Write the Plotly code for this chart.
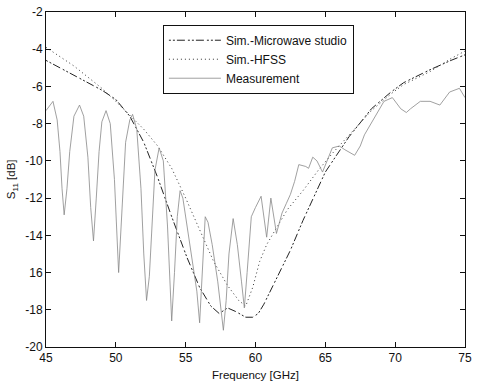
import plotly.graph_objects as go

# Measurement
meas_x = [45.0, 45.5, 45.8, 46.0, 46.15, 46.3, 46.5, 46.7, 47.0, 47.4, 47.7, 48.0, 48.2, 48.4, 48.6, 48.8,
          49.0, 49.3, 49.6, 49.9, 50.2, 50.5, 50.7, 51.0, 51.2, 51.5, 51.8, 52.0, 52.2, 52.4, 52.6, 52.8,
          53.1, 53.4, 53.7, 54.0, 54.2, 54.4, 54.6, 54.8, 55.1, 55.5, 55.8, 56.0, 56.2, 56.4, 56.6, 56.9,
          57.3, 57.7, 57.9, 58.1, 58.4, 58.7, 59.0, 59.2, 59.4, 59.7, 60.0, 60.4, 60.8, 61.1, 61.5, 61.9,
          62.2, 62.5, 62.8, 63.1, 63.6, 63.8, 64.1, 64.4, 64.8, 65.1, 65.5, 66.0, 66.4, 67.1, 67.5, 67.8,
          68.5, 69.2, 69.8, 70.4, 70.8, 71.1, 71.8, 72.5, 73.2, 73.9, 74.6, 75.0]
meas_y = [-7.3, -6.8, -7.8, -9.5, -11.5, -12.9, -11.5, -9.5, -7.6, -7.0, -7.6, -9.8, -12.5, -14.3, -12.0, -9.5,
          -7.9, -7.3, -8.0, -11.0, -16.0, -12.0, -9.0, -7.8, -7.5, -8.3, -11.5, -15.0, -17.5, -16.2, -13.0, -10.5,
          -9.3, -10.0, -13.5, -18.6, -16.0, -13.0, -11.6, -12.0, -13.5, -15.5, -17.0, -18.7, -16.0, -13.0, -13.3, -14.5,
          -16.5, -19.1, -17.5, -15.0, -13.1, -14.5, -16.5, -17.9, -16.0, -13.0, -12.5, -11.9, -14.1, -12.0, -13.9, -12.8,
          -12.3, -11.8, -11.1, -10.2, -10.3, -10.4, -9.8, -10.0, -10.6, -10.0, -9.3, -9.2, -9.4, -9.7, -9.2, -8.6,
          -7.7, -6.8, -6.6, -7.2, -7.4, -7.2, -6.8, -6.8, -7.0, -6.3, -6.1, -6.6]

# Sim. - Microwave studio
mws_x = [45, 46, 47, 48, 49, 50, 51, 52, 53, 54, 55.1, 56.0, 56.8, 57.4, 58.0, 58.6, 59.3, 59.8, 60.2, 60.6,
         61.5, 62.5, 63.4, 64.3, 65.0, 65.8, 66.7, 68.3, 69.7, 70.6, 72.5, 74.0, 75.0]
mws_y = [-4.6, -5.0, -5.4, -5.8, -6.2, -6.7, -7.6, -9.0, -10.9, -13.0, -15.2, -16.8, -17.8, -18.2, -17.9, -18.1, -18.4, -18.4, -18.2, -17.7,
         -16.3, -14.8, -13.2, -11.7, -10.6, -9.7, -8.7, -7.2, -6.3, -5.8, -5.1, -4.6, -4.3]

# Sim. - HFSS
hfss_x = [45, 46, 47, 48, 49, 50, 51, 52, 53, 54, 55, 56, 57, 58, 58.8, 59.3, 59.8, 60.3, 60.8, 61.5,
          62.3, 63.4, 64.5, 65.5, 66.7, 68.3, 69.7, 70.6, 72.5, 74.0, 75.0]
hfss_y = [-3.9, -4.4, -4.9, -5.5, -6.1, -6.8, -7.55, -8.3, -9.2, -10.4, -12.0, -13.7, -15.4, -16.7, -17.5, -17.8, -16.8, -15.4, -14.5, -13.6,
          -12.6, -11.6, -10.5, -9.6, -8.6, -7.3, -6.4, -5.9, -5.2, -4.5, -4.1]

x_ticks = [45, 50, 55, 60, 65, 70, 75]
y_ticks = [-20, -18, -16, -14, -12, -10, -8, -6, -4, -2]
y_ticklabels = ["-20", "-18", "16", "-14", "-12", "-10", "-8", "-6", "-4", "-2"]

FONT = "Liberation Sans, Arial, sans-serif"

fig = go.Figure()
fig.add_trace(go.Scatter(x=mws_x, y=mws_y, mode="lines", name="Sim.-Microwave studio",
                         line=dict(color="#222222", width=1, dash="2px,2px,2px,2px,8px,3px")))
fig.add_trace(go.Scatter(x=hfss_x, y=hfss_y, mode="lines", name="Sim.-HFSS",
                         line=dict(color="#333333", width=1, dash="1px,3px")))
fig.add_trace(go.Scatter(x=meas_x, y=meas_y, mode="lines", name="Measurement",
                         line=dict(color="#888888", width=0.8)))

fig.update_layout(
    width=477, height=386,
    margin=dict(l=46, r=5, t=9, b=39),
    paper_bgcolor="white", plot_bgcolor="white",
    font=dict(family=FONT, size=12, color="#111111"),
    showlegend=True,
    legend=dict(x=0.279, y=0.962, xanchor="left", yanchor="top",
                bordercolor="#111111", borderwidth=1, bgcolor="white",
                font=dict(family=FONT, size=12, color="#111111"),
                tracegroupgap=0, itemwidth=52),
    xaxis=dict(range=[45, 75], tickmode="array", tickvals=x_ticks,
               ticks="inside", ticklen=5, tickcolor="#111111",
               showline=True, linecolor="#111111", linewidth=1, mirror="allticks",
               showgrid=False, zeroline=False, ticklabeloverflow="allow",
               tickfont=dict(family=FONT, size=12),
               title=dict(text="Frequency [GHz]", font=dict(family=FONT, size=11.5), standoff=6)),
    yaxis=dict(range=[-20, -2], tickmode="array", tickvals=y_ticks, ticktext=y_ticklabels,
               ticks="inside", ticklen=5, tickcolor="#111111",
               showline=True, linecolor="#111111", linewidth=1, mirror="allticks",
               showgrid=False, zeroline=False, ticklabeloverflow="allow",
               tickfont=dict(family=FONT, size=12)),
    annotations=[dict(text="S<sub>11</sub> [dB]", xref="paper", yref="paper",
                      x=-0.082, y=0.5, xanchor="center", yanchor="middle",
                      textangle=-90, showarrow=False,
                      font=dict(family=FONT, size=11.5, color="#111111"))],
)

fig.write_html("out.html", config={"displayModeBar": False},
               post_script="document.body.style.margin='0';document.body.style.overflow='hidden';")
